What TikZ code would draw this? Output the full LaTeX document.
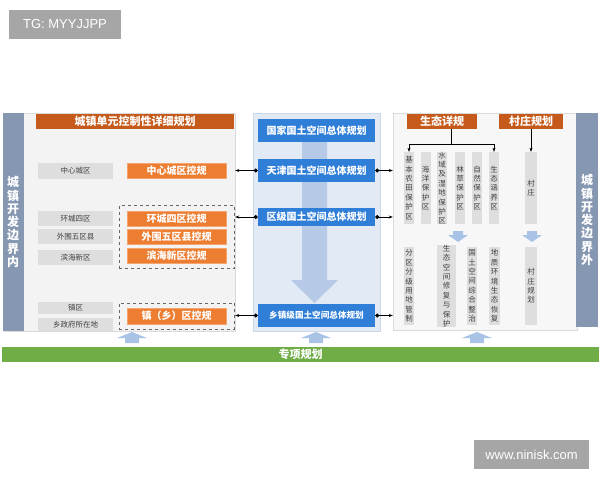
\documentclass[tikz,border=0pt]{standalone}
\usepackage{fontspec}
\setmainfont{Noto Sans CJK SC}
\newfontfamily\wmfont{Liberation Sans}
\usetikzlibrary{fit,arrows.meta}

\definecolor{barblue}{HTML}{8597B1}
\definecolor{ttlorange}{HTML}{C65A1B}
\definecolor{boxorange}{HTML}{ED7D31}
\definecolor{boxline}{HTML}{F4A46E}
\definecolor{planblue}{HTML}{2F7ED8}
\definecolor{midbg}{HTML}{E1EAF5}
\definecolor{midline}{HTML}{CCD8E8}
\definecolor{panelbg}{HTML}{F3F3F3}
\definecolor{panelline}{HTML}{DADADA}
\definecolor{zonegray}{HTML}{DEDEDE}
\definecolor{zonetext}{HTML}{404040}
\definecolor{specgreen}{HTML}{70AD47}
\definecolor{flowblue}{HTML}{A9C3E7}
\definecolor{bigflow}{HTML}{B6C9E6}
\definecolor{markgray}{HTML}{A6A6A6}

\begin{document}
\begin{tikzpicture}[x=1pt, y=-1pt, >={Stealth[length=4pt]},
    sz/.style 2 args={minimum width=#1, minimum height=#2, inner sep=0},
    panel/.style={draw=panelline, fill=panelbg},
    bar/.style={fill=barblue, text=white, align=center,
      font=\bfseries\fontsize{12}{13.3}\selectfont},
    ttl/.style={fill=ttlorange, text=white,
      font=\bfseries\fontsize{11}{12}\selectfont},
    zone/.style={fill=zonegray, text=zonetext, sz={75}{15},
      font=\fontsize{7.5}{8}\selectfont},
    ctrl/.style={fill=boxorange, draw=boxline, text=white, sz={99}{15.5},
      font=\bfseries\fontsize{10}{11}\selectfont},
    plan/.style={fill=planblue, text=white, sz={117}{23},
      font=\bfseries\fontsize{10}{11}\selectfont},
    vbox/.style={fill=zonegray, text=zonetext, align=center, inner sep=0,
      font=\fontsize{7.5}{9.4}\selectfont},
    dbox/.style={draw=black!60, dashed, inner xsep=8, inner ysep=5},
    link/.style={{Circle[length=4pt]}->, line width=0.6pt},
    flow/.style={fill=flowblue, draw=none},
    wmark/.style={fill=markgray, text=white, sz={112}{29},
      font=\wmfont\fontsize{13}{14}\selectfont} ]
  \useasboundingbox (0,0) rectangle (600,480);

  \node[wmark] (tg) at (65,24.5) {TG: MYYJJPP};
  \node[wmark, sz={115}{29}] (www) at (531.5,454.5) {www.ninisk.com};

  \node[panel, sz={231}{218}] (lbg) at (119.5,222) {};
  \node[bar, sz={21}{218}] (lbar) at (13,222) {城\\镇\\开\\发\\边\\界\\内};
  \node[ttl, sz={198}{15}] (lttl) at (135,121.5) {城镇单元控制性详细规划};
  \foreach \y/\h/\n/\t in {171/16/z1/中心城区, 218.5/15/z2/环城四区,
    236.5/15/z3/外围五区县, 257.5/15/z4/滨海新区, 308/12/z5/镇区,
    324.5/13/z6/乡政府所在地}
  \node[zone, minimum height=\h] (\n) at (75.5,\y) {\t};
  \foreach \y/\n/\t in {170.5/c1/中心城区控规, 218.5/c2/环城四区控规,
    236.5/c3/外围五区县控规, 255.5/c4/滨海新区控规, 316/c5/镇（乡）区控规}
  \node[ctrl] (\n) at (176.5,\y) {\t};
  \node[dbox, fit=(c2) (c4)] (d1) {};
  \node[dbox, fit=(c5)] (d2) {};

  \node[draw=midline, fill=midbg, sz={127}{218}] (mbg) at (316.5,222) {};
  \fill[bigflow] (302,142) -- (327,142) -- (327,280) -- (338,280)
    -- (314.5,303) -- (291,280) -- (302,280) -- cycle;
  \node[plan] (n1) at (316.5,130.5) {国家国土空间总体规划};
  \node[plan] (n2) at (316.5,170.5) {天津国土空间总体规划};
  \node[plan, minimum height=18] (n3) at (316.5,217) {区级国土空间总体规划};
  \node[plan, font=\bfseries\fontsize{8.6}{10}\selectfont] (n4)
    at (316.5,315.5) {乡镇级国土空间总体规划};

  \node[draw=panelline, fill=white!97!black, sz={184}{217}] (rbg)
    at (485,221.5) {};
  \node[bar, sz={22}{214}] (rbar) at (587,220) {城\\镇\\开\\发\\边\\界\\外};
  \node[ttl, sz={70}{15}] (st) at (442,121.5) {生态详规};
  \node[ttl, sz={64}{15}] (cz) at (531,121.5) {村庄规划};
  \foreach \x/\w/\n/\t in {409/10/g1/{基\\本\\农\\田\\保\\护\\区},
    425.5/10/g2/{海\\洋\\保\\护\\区}, 442/10/g3/{水\\域\\及\\湿\\地\\保\\护\\区},
    460/10/g4/{林\\草\\保\\护\\区}, 477/10/g5/{自\\然\\保\\护\\区},
    494/10/g6/{生\\态\\涵\\养\\区}, 531/12/g7/{村\\庄}}
  \node[vbox, sz={\w}{72}] (\n) at (\x,188) {\t};
  \foreach \x/\w/\n/\t in {409/10/r1/{分\\区\\分\\级\\用\\地\\管\\制},
    446.5/19/r2/{生\\态\\空\\间\\修\\复\\与\\保\\护},
    472/10/r3/{国\\土\\空\\间\\综\\合\\整\\治},
    494.5/11/r4/{地\\质\\环\\境\\生\\态\\恢\\复}, 531/12/r5/{村\\庄\\规\\划}}
  \node[vbox, sz={\w}{78}] (\n) at (\x,286) {\t};

  \draw[->] ([xshift=9]st.south) -- ++(0,15) -| (g1.north);
  \draw[->] ([xshift=9]st.south) -- ++(0,15) -| (g6.north);
  \draw[->] (cz.south) -- (g7.north);
  \foreach \x in {458,532}
  \fill[flow] (\x-5,231) -- (\x+5,231) -- (\x+5,235) -- (\x+10,235)
    -- (\x,242) -- (\x-10,235) -- (\x-5,235) -- cycle;

  \foreach \n in {n2,n3,n4} {
    \draw[link] (\n.west) -- (\n.west -| lbg.east);
    \draw[link] (\n.east) -- (\n.east -| rbg.west);
  }

  \node[fill=specgreen, text=white, sz={597}{15},
    font=\bfseries\fontsize{11}{12}\selectfont] (spec) at (300.5,354.5) {专项规划};
  \foreach \x in {132,316,477}
  \fill[flow] (\x-7,343) -- (\x-7,338) -- (\x-15,338) -- (\x,332)
    -- (\x+15,338) -- (\x+7,338) -- (\x+7,343) -- cycle;
\end{tikzpicture}
\end{document}
